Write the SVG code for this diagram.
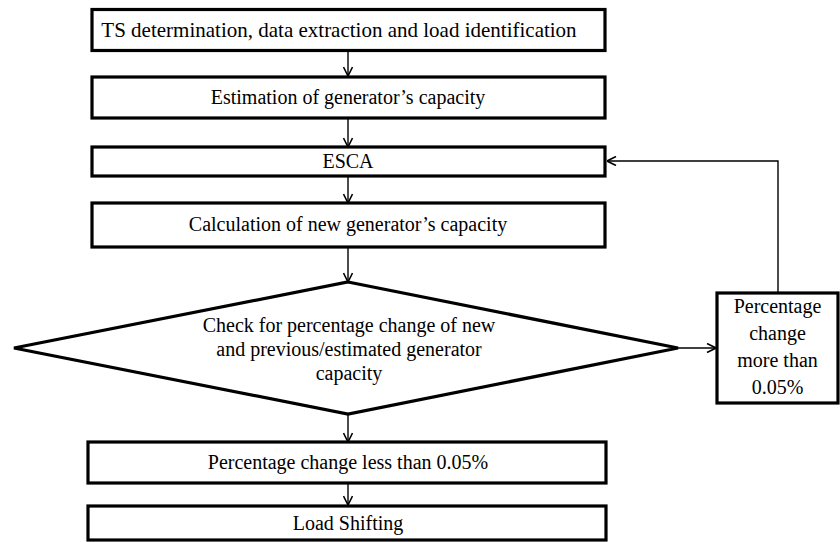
<svg xmlns="http://www.w3.org/2000/svg" width="840" height="542" viewBox="0 0 840 542">
<style>
.box{fill:#fff;stroke:#000;stroke-width:3.2}
.t{font-family:"Liberation Serif","Times New Roman",serif;font-size:20px;fill:#000;text-anchor:middle}
.c{fill:none;stroke:#000;stroke-width:1.4}
</style>
<defs>
<marker id="ah" viewBox="0 0 10 10" refX="10" refY="5" markerWidth="10" markerHeight="10" markerUnits="userSpaceOnUse" orient="auto">
<path d="M1,0.5 L10,5 L1,9.5" fill="none" stroke="#000" stroke-width="1.6"/>
</marker>
</defs>
<rect width="840" height="542" fill="#fff"/>
<g id="connectors">
<line class="c" x1="348" y1="51" x2="348" y2="76" marker-end="url(#ah)"/>
<line class="c" x1="348" y1="118" x2="348" y2="147" marker-end="url(#ah)"/>
<line class="c" x1="348" y1="176" x2="348" y2="203" marker-end="url(#ah)"/>
<line class="c" x1="348" y1="247" x2="348" y2="282" marker-end="url(#ah)"/>
<line class="c" x1="348" y1="414" x2="348" y2="442" marker-end="url(#ah)"/>
<line class="c" x1="348" y1="483" x2="348" y2="505" marker-end="url(#ah)"/>
<line class="c" x1="678" y1="348" x2="716" y2="348" marker-end="url(#ah)"/>
<polyline class="c" points="778,293 778,161 607,161" marker-end="url(#ah)"/>
</g>
<g id="n1">
<rect class="box" x="92" y="9.5" width="513" height="41"/>
<text class="t" x="339" y="37" style="font-size:21px">TS determination, data extraction and load identification</text>
</g>
<g id="n2">
<rect class="box" x="92" y="77" width="513" height="41"/>
<text class="t" x="348" y="104">Estimation of generator’s capacity</text>
</g>
<g id="n3">
<rect class="box" x="92" y="147" width="513" height="29"/>
<text class="t" x="348" y="168">ESCA</text>
</g>
<g id="n4">
<rect class="box" x="92" y="203" width="513" height="44"/>
<text class="t" x="348" y="231">Calculation of new generator’s capacity</text>
</g>
<g id="n5">
<polygon class="box" points="348,282 678,348 348,414 14,348"/>
<text class="t" x="349" y="332">Check for percentage change of new</text>
<text class="t" x="349" y="356">and previous/estimated generator</text>
<text class="t" x="349" y="380">capacity</text>
</g>
<g id="n6">
<rect class="box" x="717" y="293" width="121" height="110"/>
<text class="t" x="777.5" y="313">Percentage</text>
<text class="t" x="777.5" y="340">change</text>
<text class="t" x="777.5" y="367">more than</text>
<text class="t" x="777.5" y="394">0.05%</text>
</g>
<g id="n7">
<rect class="box" x="88" y="442" width="518" height="41"/>
<text class="t" x="348" y="469">Percentage change less than 0.05%</text>
</g>
<g id="n8">
<rect class="box" x="88" y="506" width="518" height="34"/>
<text class="t" x="348" y="530">Load Shifting</text>
</g>
</svg>
